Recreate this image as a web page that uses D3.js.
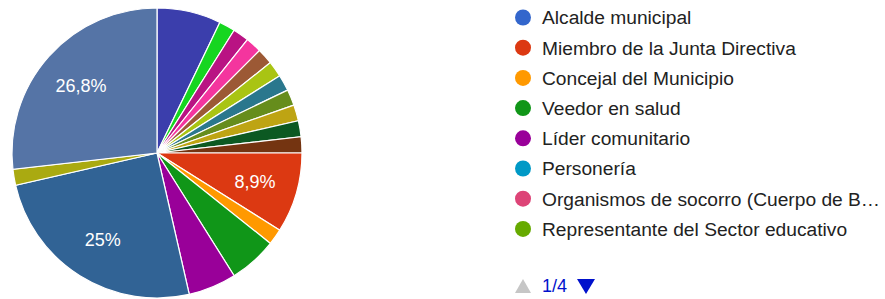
<!DOCTYPE html>
<html>
<head>
<meta charset="utf-8">
<script src="https://cdn.jsdelivr.net/npm/d3@7"></script>
<style>
  body { margin: 0; background: #fff; }
  svg { display: block; font-family: Arial, "Liberation Sans", sans-serif; }
</style>
</head>
<body>
<svg id="chart" width="885" height="299"></svg>
<script>
// Responses per slice (56 in total), in clockwise order from 12 o'clock
const sliceCounts = [4, 1, 1, 1, 1, 1, 1, 1, 1, 1, 1, 5, 1, 3, 3, 14, 1, 15];
const sliceColors = ['#3b3eac', '#16d620', '#b91383', '#f4359e', '#9c5935', '#a9c413',
    '#2a778d', '#668d1c', '#bea413', '#0c5922', '#743411', '#dc3912', '#ff9900',
    '#109618', '#990099', '#316395', '#aaaa11', '#5574a6'];

// Legend, page 1 of 4
const legendLabels = ['Alcalde municipal', 'Miembro de la Junta Directiva', 'Concejal del Municipio',
    'Veedor en salud', 'Líder comunitario', 'Personería',
    'Organismos de socorro (Cuerpo de B…', 'Representante del Sector educativo'];
const legendColors = ['#3366cc', '#dc3912', '#ff9900', '#109618', '#990099', '#0099c6', '#dd4477', '#66aa00'];
const pageLabel = '1/4';

const total = d3.sum(sliceCounts);
const fmt = v => {
    const p = Math.round(v / total * 1000) / 10;
    return String(p).replace('.', ',') + '%';
};

const svg = d3.select('#chart');
const cx = 157, cy = 153, radius = 145;

const pie = d3.pie().sort(null).value(d => d)(sliceCounts);
const arc = d3.arc().innerRadius(0).outerRadius(radius);
const labelArc = d3.arc().innerRadius(102).outerRadius(102);

const g = svg.append('g').attr('transform', `translate(${cx},${cy})`);

g.selectAll('path')
    .data(pie)
    .enter().append('path')
    .attr('d', arc)
    .attr('fill', (d, i) => sliceColors[i])
    .attr('stroke', '#fff')
    .attr('stroke-width', 1.2);

// percentage only on the big slices
g.selectAll('text')
    .data(pie.filter(d => d.value / total > 0.08))
    .enter().append('text')
    .attr('transform', d => `translate(${labelArc.centroid(d)})`)
    .attr('dy', '0.36em')
    .attr('text-anchor', 'middle')
    .attr('fill', '#fff')
    .style('font-size', '18px')
    .text(d => fmt(d.value));

// Legend
const rowY = d3.scaleLinear().domain([0, 1]).range([17.5, 47.7]);
const legend = svg.append('g');
legendLabels.forEach((lab, i) => {
    const row = legend.append('g').attr('transform', `translate(0,${rowY(i)})`);
    row.append('circle').attr('cx', 523).attr('cy', 0).attr('r', 8).attr('fill', legendColors[i]);
    row.append('text').attr('x', 542).attr('y', 0).attr('dy', '0.36em')
        .attr('fill', '#222').style('font-size', '19.2px').text(lab);
});

// Paging
const py = 286;
svg.append('path').attr('d', `M515,${py + 7}L523,${py - 7}L531,${py + 7}Z`).attr('fill', '#c6c6c6');
svg.append('text').attr('x', 542).attr('y', py).attr('dy', '0.36em')
    .attr('fill', '#0011cc').style('font-size', '18px').text(pageLabel);
svg.append('path').attr('d', `M577,${py - 7}L595,${py - 7}L586,${py + 8}Z`).attr('fill', '#0011cc');
</script>
</body>
</html>
